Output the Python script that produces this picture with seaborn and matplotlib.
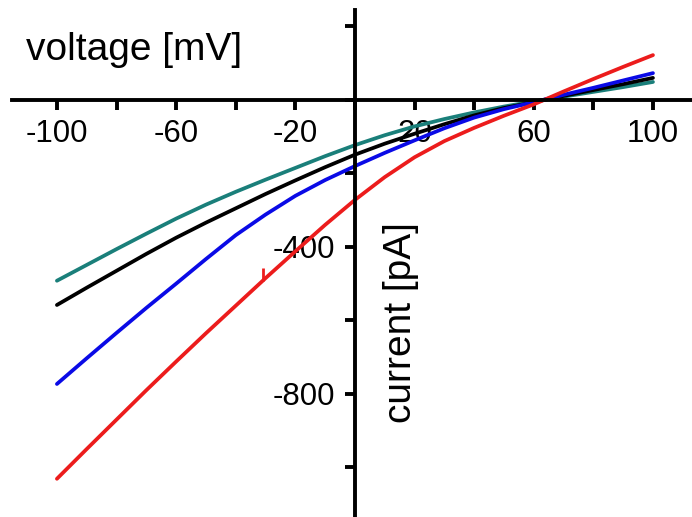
import pandas as pd
import matplotlib
matplotlib.use('Agg')
import matplotlib.pyplot as plt
import seaborn as sns

# voltage steps [mV] and currents [pA]
voltage = [-100, -90, -80, -70, -60, -50, -40, -30, -20, -10, 0,
           10, 20, 30, 40, 50, 60, 70, 80, 90, 100]
teal_curr = [-492, -449, -406, -364, -323, -285, -250, -217, -185, -153, -123,
             -96, -72, -52, -34, -18, -4, 9, 22, 35, 49]
black_curr = [-558, -511, -465, -419, -375, -334, -295, -256, -219, -183, -149,
              -119, -92, -66, -42, -22, -6, 11, 27, 43, 60]
blue_curr = [-773, -703, -634, -566, -500, -433, -368, -312, -261, -218, -180,
             -144, -110, -77, -48, -25, -6, 14, 33, 53, 73]
red_curr = [-1031, -950, -870, -790, -712, -635, -560, -485, -412, -340, -272,
            -210, -156, -112, -76, -43, -12, 23, 57, 90, 122]

# small barb on the red trace
mark_v = [-31]
mark_i = [-492]

xticks = [-100, -80, -60, -40, -20, 0, 20, 40, 60, 80, 100]
xticklabels = ['-100', '', '-60', '', '-20', '', '20', '', '60', '', '100']
yticks = [200, 0, -200, -400, -600, -800, -1000]
yticklabels = ['', '', '', '-400', '', '-800', '']

series = {'teal': teal_curr, 'black': black_curr, 'blue': blue_curr, 'red': red_curr}
colors = {'teal': '#1a7f7a', 'black': '#000000', 'blue': '#0a0ae6', 'red': '#ec1c1c'}

rows = []
for name, vals in series.items():
    for v, i in zip(voltage, vals):
        rows.append({'voltage': v, 'current': i, 'trace': name})
df = pd.DataFrame(rows)

sns.set_style('white')
plt.rcParams['font.family'] = ['Liberation Sans', 'DejaVu Sans']
plt.rcParams['text.color'] = 'black'
plt.rcParams['xtick.color'] = 'black'
plt.rcParams['ytick.color'] = 'black'

fig = plt.figure(figsize=(6.92, 5.17), dpi=100)
ax = fig.add_axes([0, 0, 1, 1])

sns.lineplot(data=df, x='voltage', y='current', hue='trace', palette=colors,
             linewidth=2.7, legend=False, ax=ax, sort=False)
ax.plot(mark_v, mark_i, linestyle='none', marker=[(0, 0), (0, 1)], markersize=19,
        markeredgewidth=2.0, color=colors['red'], zorder=3)

ax.set_xlim(-119.1, 113.1)
ax.set_ylim(-1135, 272)

for s in ['top', 'right']:
    ax.spines[s].set_visible(False)
ax.spines['left'].set_position(('data', 0))
ax.spines['bottom'].set_position(('data', 0))
ax.spines['left'].set_bounds(-1135, 245)
ax.spines['bottom'].set_bounds(-115, 113.1)
for s in ['left', 'bottom']:
    ax.spines[s].set_linewidth(2.8)
    ax.spines[s].set_color('black')

ax.set_xticks(xticks)
ax.set_xticklabels(xticklabels)
ax.set_yticks(yticks)
ax.set_yticklabels(yticklabels)
ax.tick_params(axis='both', direction='out', length=7, width=2.8, color='black',
               labelcolor='black', labelsize=22.5, bottom=True, left=True)
ax.tick_params(axis='x', pad=7)
ax.tick_params(axis='y', pad=7)

ax.set_xlabel('')
ax.set_ylabel('')
ax.text(-74, 136, 'voltage [mV]', fontsize=28, ha='center', va='center')
ax.text(15.4, -607, 'current [pA]', fontsize=28, ha='center', va='center', rotation=90)

fig.savefig('out.png', dpi=100)
